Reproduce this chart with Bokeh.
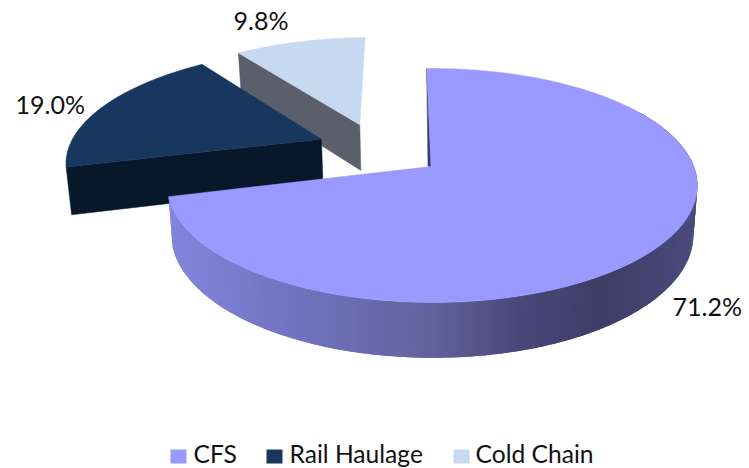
import numpy as np
from bokeh.embed import file_html
from bokeh.models import Range1d
from bokeh.plotting import figure
from bokeh.resources import INLINE
from bokeh.core.properties import value

# Share of revenue by business line
categories = ["CFS", "Rail Haulage", "Cold Chain"]
shares = [71.2, 19.0, 9.8]

top_colors = ["#9999FF", "#17375E", "#C6D9F1"]
wall_colors = ["#38386E", "#08182B", "#5A5F6B"]

# Projection of the pie plane on to the page (a tilted disc seen in perspective)
AX, AY = 430.5, 166.0
RX, RY = 261.5, 113.9
K, M = 0.1625, -0.005
DEPTH, SHRINK = 48.0, 0.985
START_DEG = -1.1

# Each slice is pulled out of the centre by this vector, in pie-plane units
explode = [(0.0, 0.0), (-0.437, 0.25), (-0.29, 0.39)]


def project(u, v, lower=False):
    u, v = np.asarray(u, float), np.asarray(v, float)
    w = 1 + K * v + M * u
    scale = SHRINK if lower else 1.0
    x = AX + RX * u / w * scale
    y = AY - RY * v / w * scale + (DEPTH / w if lower else 0.0)
    return x, y


def arc(a0, a1, ex, ey, n=120):
    t = np.radians(np.linspace(a0, a1, n))
    return ex + np.sin(t), ey + np.cos(t)


def mix(stops, x):
    xs = [s[0] for s in stops]
    rgb = [np.interp(x, xs, [s[1][i] for s in stops]) for i in range(3)]
    return "#%02x%02x%02x" % tuple(int(round(c)) for c in rgb)


p = figure(width=749, height=468, output_backend="svg", toolbar_location=None,
           x_range=Range1d(0, 749), y_range=Range1d(468, 0),
           min_border=0, background_fill_color="white", border_fill_color="white")
p.axis.visible = False
p.grid.visible = False
p.outline_line_color = None

# Slice angles, clockwise from twelve o'clock
edges = START_DEG + np.concatenate([[0], np.cumsum(shares)]) * 3.6
spans = list(zip(edges[:-1], edges[1:]))


def slice_outline(i):
    ex, ey = explode[i]
    ua, va = arc(spans[i][0], spans[i][1], ex, ey)
    return np.append(ua, ex), np.append(va, ey)


def cut_wall(i, angle):
    ex, ey = explode[i]
    t = np.radians(angle)
    us, vs = np.array([ex + np.sin(t), ex]), np.array([ey + np.cos(t), ey])
    xt, yt = project(us, vs)
    xb, yb = project(us, vs, lower=True)
    return np.concatenate([xt, xb[::-1]]), np.concatenate([yt, yb[::-1]])


# Slices are painted back to front: Cold Chain, Rail Haulage, then CFS
for i in (2, 1):
    wx, wy = cut_wall(i, spans[i][0])
    p.patch(wx, wy, fill_color=wall_colors[i], line_color=wall_colors[i], line_width=0.5)
    tx, ty = project(*slice_outline(i))
    p.patch(tx, ty, fill_color=top_colors[i], line_color=top_colors[i], line_width=0.5)

# Narrow inner wall showing along the first cut of the CFS slice
sx, sy = project(*arc(spans[0][0], spans[0][0], 0, 0, n=1))
p.patch([sx[0], AX, AX - 3], [sy[0], AY, AY], fill_color=wall_colors[0],
        line_color=wall_colors[0], line_width=0.5)

# Rim of the CFS slice, shaded in overlapping strips from dark on the right to light on the left
rim_stops = [(175, (130, 132, 218)), (300, (112, 114, 190)), (430, (98, 98, 156)),
             (520, (72, 71, 122)), (600, (62, 61, 102)), (692, (74, 74, 124))]
steps = np.arange(60, spans[0][1], 1.0)
steps = np.append(steps, spans[0][1])
xs_list, ys_list, colors = [], [], []
for a0, a1 in zip(steps[:-1], steps[1:]):
    u, v = arc(a0 - 1.0, a1, 0, 0, n=3)
    xt, yt = project(u, v)
    xb, yb = project(u, v, lower=True)
    xs_list.append(np.concatenate([xt, xb[::-1]]))
    ys_list.append(np.concatenate([yt, yb[::-1]]))
    colors.append(mix(rim_stops, xt.mean()))
p.patches(xs_list, ys_list, fill_color=colors, line_color=None)

tx, ty = project(*slice_outline(0))
p.patch(tx, ty, fill_color=top_colors[0], line_color=top_colors[0], line_width=0.5)

# Percentage labels
label_x = [672, 15, 233]
label_y = [305, 103, 19]
p.text(label_x, label_y, text=[f"{s:.1f}%" for s in shares],
       text_font=value("Lato"), text_font_size="25px", text_color="#111111",
       text_align="left", text_baseline="middle")

# Legend row
swatch_x = [178, 274, 461]
legend_text_x = [193, 289, 475]
swatch_y = 456
legend_y = 452.5
p.rect(swatch_x, [swatch_y] * 3, width=16, height=14, fill_color=top_colors, line_color=None)
p.text(legend_text_x, [legend_y] * 3, text=categories,
       text_font=value("Lato"), text_font_size="24.6px", text_color="#111111",
       text_align="left", text_baseline="middle")

open("out.html", "w").write(file_html(p, INLINE))
